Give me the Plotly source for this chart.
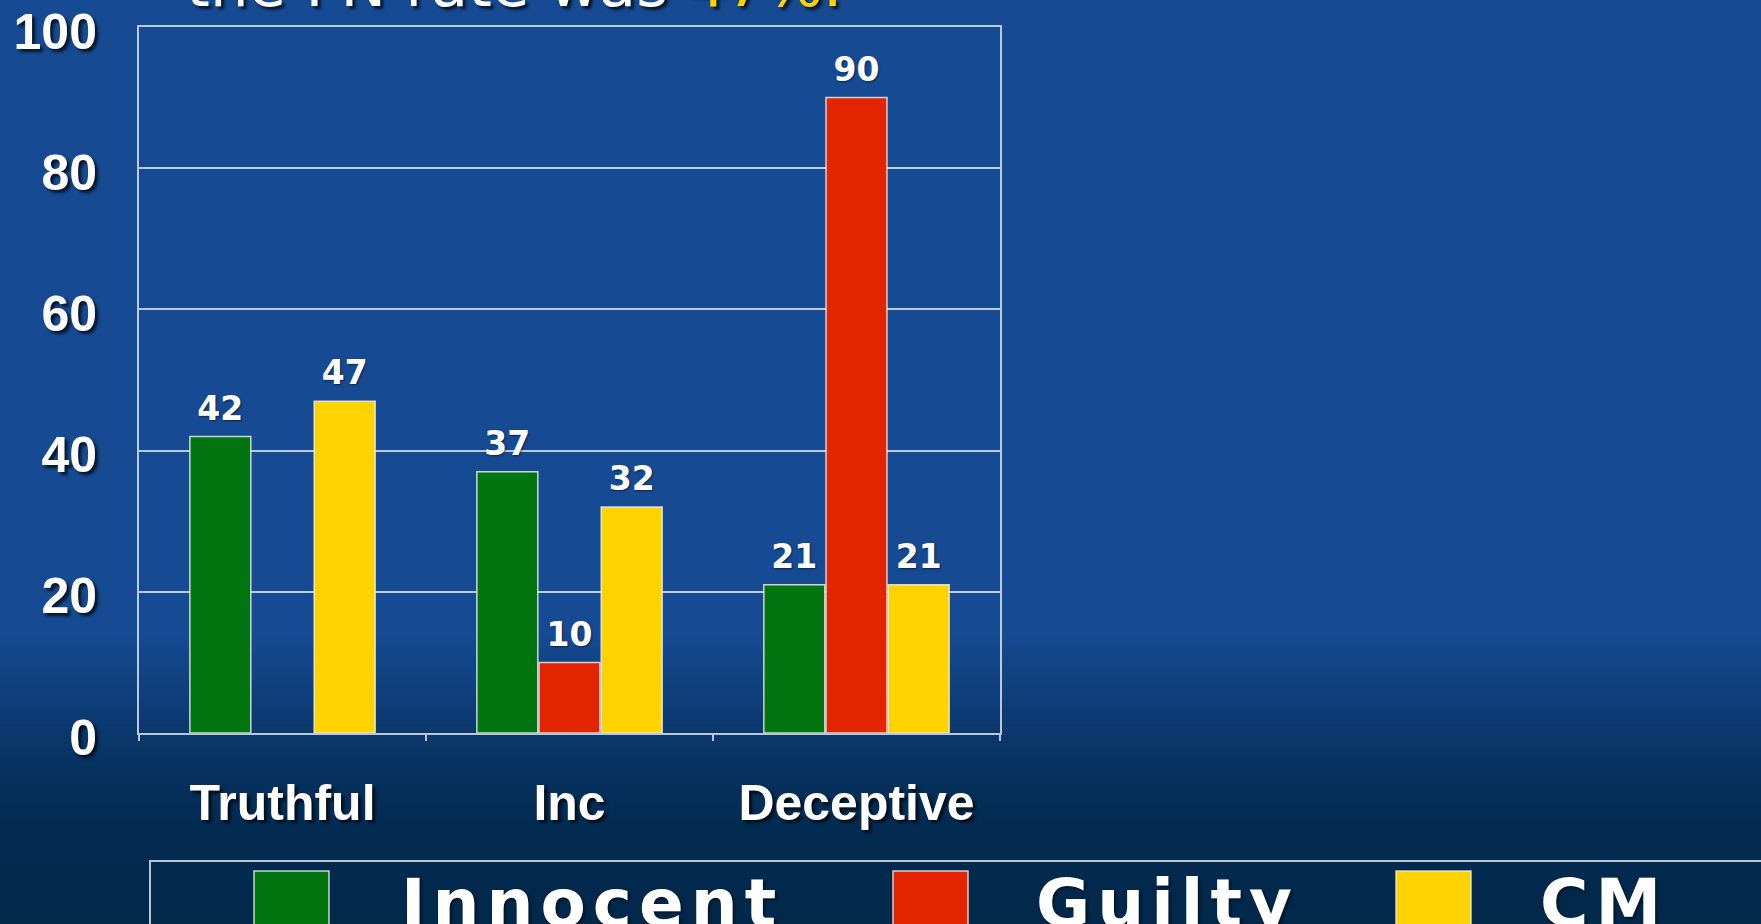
import plotly.graph_objects as go

# ---------------- data ----------------
categories = ["Truthful", "Inc", "Deceptive"]
series_names = ["Innocent", "Guilty", "CM"]
innocent = [42, 37, 21]
guilty = [None, 10, 90]
cm = [47, 32, 21]
series_values = [innocent, guilty, cm]
y_ticks = [0, 20, 40, 60, 80, 100]

# ---------------- styles ----------------
colors = ["#027511", "#E32400", "#FFD300"]
W, H = 1761, 924
L, R, T, B = 139, 1000, 27, 733  # plot area in pixels


def px_x(px):
    return (px - L) / (R - L)


def px_y(py):
    return (B - py) / (B - T)


fig = go.Figure()
for i, (name, vals, col) in enumerate(zip(series_names, series_values, colors)):
    fig.add_trace(go.Bar(
        x=categories, y=vals, name=name, offsetgroup=str(i),
        marker=dict(color=col, line=dict(color="rgba(235,235,235,0.85)", width=1.5)),
        showlegend=False, hoverinfo="x+y+name",
    ))
# value labels, placed above each bar through the same grouped positions
for i, (name, vals) in enumerate(zip(series_names, series_values)):
    fig.add_trace(go.Scatter(
        x=categories, y=vals, name=name, offsetgroup=str(i), mode="markers+text",
        marker=dict(size=12, opacity=0),
        text=[("" if v is None else str(v)) for v in vals],
        textposition="top center", cliponaxis=False,
        textfont=dict(family="DejaVu Sans", size=33, color="white", weight="bold",
                      shadow="1px 1px 2px rgba(0,0,0,0.5)"),
        showlegend=False, hoverinfo="skip",
    ))

# background gradient (slide background)
stops = [(0, (22, 74, 146)), (630, (22, 74, 146)), (700, (14, 62, 122)),
         (760, (7, 51, 97)), (830, (3, 43, 81)), (924, (2, 40, 74))]


def col_at(py):
    for (a, ca), (b, cb) in zip(stops[:-1], stops[1:]):
        if a <= py <= b:
            t = (py - a) / (b - a) if b > a else 0
            return tuple(round(ca[i] + (cb[i] - ca[i]) * t) for i in range(3))
    return stops[-1][1]


shapes = []
step = 6
for py in range(610, 930, step):
    c = col_at(py + step / 2)
    shapes.append(dict(type="rect", xref="paper", yref="paper", layer="below",
                       x0=px_x(-60), x1=px_x(W + 60), y0=px_y(py + step + 1), y1=px_y(py),
                       fillcolor=f"rgb({c[0]},{c[1]},{c[2]})", line=dict(width=0)))

# legend box
shapes.append(dict(type="rect", xref="paper", yref="paper",
                   x0=px_x(150), x1=px_x(W + 20), y0=px_y(H + 20), y1=px_y(861),
                   fillcolor="rgba(0,0,0,0)", line=dict(color="rgba(205,215,225,0.9)", width=2)))

# manual legend (large swatches as in the source)
legend_swatch_x = [254, 893, 1396]
legend_text_x = [399, 1034, 1538]
annotations = []
for name, col, sx, tx in zip(series_names, colors, legend_swatch_x, legend_text_x):
    shapes.append(dict(type="rect", xref="paper", yref="paper",
                       x0=px_x(sx), x1=px_x(sx + 75), y0=px_y(H + 10), y1=px_y(871),
                       fillcolor=col, line=dict(color="rgba(235,235,235,0.85)", width=1.5)))
    annotations.append(dict(
        xref="paper", yref="paper", x=px_x(tx), y=px_y(903), xanchor="left", yanchor="middle",
        showarrow=False,
        text=f"<span style='letter-spacing:7px'>{name}</span>",
        font=dict(family="DejaVu Sans", size=66, color="white", weight="bold",
                  shadow="2px 2px 3px rgba(0,0,0,0.5)"),
    ))

# partially visible slide title at the very top
annotations.append(dict(
    xref="paper", yref="paper", x=px_x(184), y=1, xanchor="left", yanchor="bottom", yshift=5,
    showarrow=False,
    text="the FN rate was <span style='color:#FFD200'>47%.</span>",
    font=dict(family="DejaVu Sans", size=61, color="white",
              shadow="3px 3px 3px rgba(0,0,0,0.7)"),
))

axis_col = "rgba(205,215,225,0.9)"
fig.update_layout(
    width=W, height=H, autosize=False,
    margin=dict(l=L, r=W - R, t=T, b=H - B, pad=0),
    paper_bgcolor="rgb(22,74,146)", plot_bgcolor="rgba(0,0,0,0)",
    barmode="group", bargap=0.35, bargroupgap=0.02,
    scattermode="group", scattergap=0.35,
    shapes=shapes, annotations=annotations,
    xaxis=dict(type="category", categoryorder="array", categoryarray=categories,
               showline=True, linecolor=axis_col, linewidth=2, mirror=True,
               ticks="outside", tickson="boundaries", ticklen=6, tickcolor=axis_col,
               tickwidth=2, ticklabelstandoff=25, showgrid=False, automargin=False,
               tickfont=dict(family="Liberation Sans", size=50, color="white", weight="bold",
                             shadow="3px 3px 3px rgba(0,0,0,0.7)")),
    yaxis=dict(range=[0, 100], tickvals=y_ticks, showline=True, linecolor=axis_col,
               linewidth=2, mirror=True, showgrid=True, gridcolor=axis_col, gridwidth=2,
               zeroline=False, ticks="", ticklabelstandoff=30, ticklabelshift=4,
               ticklabeloverflow="allow", automargin=False,
               tickfont=dict(family="Liberation Sans", size=50, color="white", weight="bold",
                             shadow="3px 3px 3px rgba(0,0,0,0.7)")),
)

fig.write_html(
    "out.html",
    config={"displayModeBar": False},
    post_script="document.body.style.margin='0';document.body.style.overflow='hidden';",
)
